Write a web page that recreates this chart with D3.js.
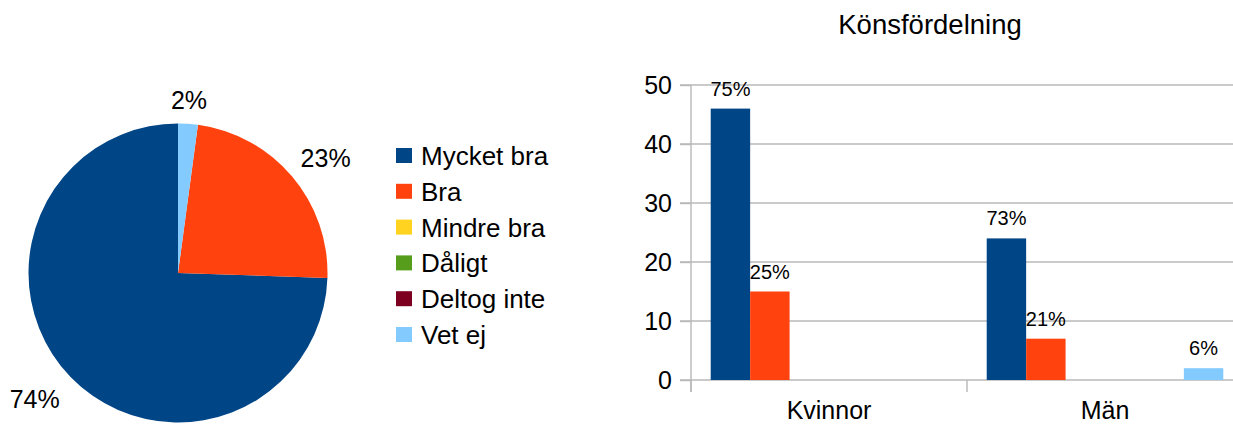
<!DOCTYPE html>
<html>
<head>
<meta charset="utf-8">
<script src="https://cdn.jsdelivr.net/npm/d3@7"></script>
<style>
  html, body { margin: 0; padding: 0; background: #fff; }
  svg { display: block; font-family: "Liberation Sans", Arial, sans-serif; }
</style>
</head>
<body>
<svg id="chart" width="1233" height="425"></svg>
<script>
// Answer categories (legend order) and their colours
const categories = ["Mycket bra", "Bra", "Mindre bra", "Dåligt", "Deltog inte", "Vet ej"];
const colors = ["#004586", "#ff420e", "#ffd320", "#579d1c", "#7e0021", "#83caff"];

// Number of answers per gender group
const groups = ["Kvinnor", "Män"];
const kvinnor = [46, 15, 0, 0, 0, 0];
const man = [24, 7, 0, 0, 0, 2];

// All answers combined, used by the pie
const total = [70, 22, 0, 0, 0, 2];

const yTicks = [0, 10, 20, 30, 40, 50];
const title = "Könsfördelning";

const W = 1233, H = 425;
const svg = d3.select("#chart");
const pct = (v, sum) => Math.round(v / sum * 100) + "%";

/* ---------- Pie ---------- */
const cx = 178, cy = 273, r = 149.5;
const pieSum = d3.sum(total);
const pie = d3.pie().sort(null).startAngle(0).endAngle(-2 * Math.PI);
const arcs = pie(total);
const arc = d3.arc().innerRadius(0).outerRadius(r);

const pg = svg.append("g").attr("transform", `translate(${cx},${cy})`);
pg.selectAll("path")
  .data(arcs.filter(d => d.value > 0))
  .join("path")
  .attr("d", arc)
  .attr("fill", d => colors[d.index]);

// Labels sit just outside the rim, anchored by the box corner nearest the pie
const labelR = r + 15;
const pieFont = 25;
pg.selectAll("text")
  .data(arcs.filter(d => d.value > 0))
  .join("text")
  .attr("font-size", pieFont)
  .attr("fill", "#000")
  .each(function (d) {
    const a = (d.startAngle + d.endAngle) / 2;
    const s = Math.sin(a), c = Math.cos(a);
    const px = labelR * s, py = -labelR * c;
    const anchor = Math.abs(s) < 0.2 ? "middle" : (s > 0 ? "start" : "end");
    const base = c > 0 ? py : py + pieFont * 0.82;
    d3.select(this)
      .attr("x", px + (anchor === "start" ? -3 : 0))
      .attr("y", base)
      .attr("text-anchor", anchor)
      .text(pct(d.value, pieSum));
  });

/* ---------- Legend ---------- */
const lg = svg.append("g").attr("transform", "translate(396,148)");
const rowStep = 35.8;
const li = lg.selectAll("g")
  .data(categories)
  .join("g")
  .attr("transform", (d, i) => `translate(0,${i * rowStep})`);
li.append("rect")
  .attr("width", 16).attr("height", 15)
  .attr("fill", (d, i) => colors[i]);
li.append("text")
  .attr("x", 25).attr("y", 7.5 + 9.4)
  .attr("font-size", 26)
  .attr("fill", "#000")
  .text(d => d);

/* ---------- Bar chart ---------- */
const x0 = d3.scaleBand().domain(groups).range([691, 1243]).padding(0);
const x1 = d3.scaleBand().domain(categories).range([0, x0.bandwidth()])
  .paddingInner(0).paddingOuter(0.5);
const y = d3.scaleLinear().domain([0, 50]).range([380, 85]);

const gridColor = "#b8b8b8";

// Horizontal grid lines
svg.append("g").selectAll("line")
  .data(yTicks)
  .join("line")
  .attr("x1", 680).attr("x2", W)
  .attr("y1", d => y(d)).attr("y2", d => y(d))
  .attr("stroke", gridColor).attr("stroke-width", 1.4);

// Y axis
const yAxis = svg.append("g")
  .attr("transform", "translate(691,0)")
  .call(d3.axisLeft(y).tickValues(yTicks).tickSize(11).tickPadding(8).tickFormat(d3.format("d")));
yAxis.select(".domain").remove();
yAxis.selectAll("line").attr("stroke", gridColor).attr("stroke-width", 1.4);
yAxis.selectAll("text")
  .attr("font-size", 25).attr("fill", "#000")
  .attr("font-family", "Liberation Sans, Arial, sans-serif");
svg.append("line")
  .attr("x1", 691).attr("x2", 691)
  .attr("y1", y(50)).attr("y2", y(0) + 12)
  .attr("stroke", gridColor).attr("stroke-width", 1.4);

// X axis: category separators and labels
svg.append("g").selectAll("line")
  .data(groups.map(g => x0(g)).concat([x0.range()[1]]))
  .join("line")
  .attr("x1", d => d).attr("x2", d => d)
  .attr("y1", y(0)).attr("y2", y(0) + 12)
  .attr("stroke", gridColor).attr("stroke-width", 1.4);
const xAxis = svg.append("g")
  .attr("transform", `translate(0,${y(0)})`)
  .call(d3.axisBottom(x0).tickSize(0).tickPadding(21));
xAxis.select(".domain").remove();
xAxis.selectAll("text")
  .attr("font-size", 25).attr("fill", "#000")
  .attr("font-family", "Liberation Sans, Arial, sans-serif");

// Bars
const series = [kvinnor, man];
const bg = svg.append("g");
groups.forEach((g, gi) => {
  const vals = series[gi];
  const sum = d3.sum(vals);
  const cells = categories.map((c, i) => ({ c, i, v: vals[i] })).filter(d => d.v > 0);
  const grp = bg.append("g").attr("transform", `translate(${x0(g)},0)`);
  grp.selectAll("rect")
    .data(cells)
    .join("rect")
    .attr("x", d => x1(d.c))
    .attr("width", x1.bandwidth())
    .attr("y", d => y(d.v))
    .attr("height", d => y(0) - y(d.v))
    .attr("fill", d => colors[d.i]);
  grp.selectAll("text")
    .data(cells)
    .join("text")
    .attr("x", d => x1(d.c) + x1.bandwidth() / 2)
    .attr("y", d => y(d.v) - 13)
    .attr("text-anchor", "middle")
    .attr("font-size", 20)
    .attr("fill", "#000")
    .text(d => pct(d.v, sum));
});

// Title
svg.append("text")
  .attr("x", 930).attr("y", 34)
  .attr("text-anchor", "middle")
  .attr("font-size", 27.5)
  .attr("fill", "#000")
  .text(title);
</script>
</body>
</html>
